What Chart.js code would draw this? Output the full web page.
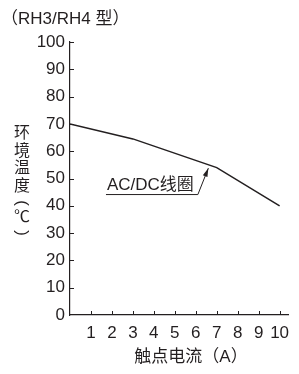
<!DOCTYPE html>
<html>
<head>
<meta charset="utf-8">
<script src="https://cdn.jsdelivr.net/npm/chart.js@4.4.0/dist/chart.umd.min.js"></script>
<style>
  html, body { margin: 0; padding: 0; background: #fff; }
  canvas { display: block; }
</style>
</head>
<body>
<canvas id="chart" width="299" height="374"></canvas>
<script>
// curve data
const currentA = [0, 3, 7, 10];
const ambientTemp = [70, 64.5, 54, 40];

const xTicks = [1, 2, 3, 4, 5, 6, 7, 8, 9, 10];
const yTicks = [0, 10, 20, 30, 40, 50, 60, 70, 80, 90, 100];

const chartTitle = "（RH3/RH4 型）";
const xTitle = "触点电流（A）";
const yTitleChars = ["环", "境", "温", "度"];
const curveLabel = "AC/DC线圈";

const ink = "#231f20";
const font = "'Liberation Sans', 'Noto Sans CJK SC', sans-serif";
const cjk = "'Noto Sans CJK SC', sans-serif";

const points = currentA.map((x, i) => ({ x: x, y: ambientTemp[i] }));

const extras = {
    id: "extras",
    afterDraw(chart) {
        const ctx = chart.ctx;
        const xs = chart.scales.x;
        const ys = chart.scales.y;
        const area = chart.chartArea;

        ctx.save();
        ctx.strokeStyle = ink;
        ctx.fillStyle = ink;
        ctx.lineWidth = 1;

        // inside ticks
        ctx.beginPath();
        yTicks.forEach(v => {
            if (v === 0) return;
            const py = Math.round(ys.getPixelForValue(v)) + 0.5;
            ctx.moveTo(area.left, py);
            ctx.lineTo(area.left + 4, py);
        });
        xTicks.forEach(v => {
            const px = Math.round(xs.getPixelForValue(v)) + 0.5;
            ctx.moveTo(px, area.bottom);
            ctx.lineTo(px, area.bottom - 4);
        });
        ctx.stroke();

        // top title
        ctx.font = "17px " + font;
        ctx.textAlign = "left";
        ctx.textBaseline = "middle";
        ctx.fillText(chartTitle, 1, 19);

        // vertical y title
        ctx.font = "16px " + cjk;
        ctx.textAlign = "center";
        yTitleChars.forEach((c, i) => {
            ctx.fillText(c, 22, 132 + i * 17.5);
        });
        ctx.font = "16px " + font;
        ctx.fillText("℃", 22, 218);
        ctx.font = "17px " + font;
        [[203, "("], [233, ")"]].forEach(p => {
            ctx.save();
            ctx.translate(22, p[0]);
            ctx.rotate(Math.PI / 2);
            ctx.fillText(p[1], 0, 0);
            ctx.restore();
        });

        // x title
        ctx.font = "17px " + font;
        ctx.textAlign = "center";
        ctx.fillText(xTitle, 191, 357);

        // curve label with underline and arrow
        const tipX = xs.getPixelForValue(6.6);
        const tipY = ys.getPixelForValue(53.8);
        const baseX = xs.getPixelForValue(6.1);
        const baseY = ys.getPixelForValue(44.3);
        ctx.font = "17px " + font;
        ctx.textAlign = "right";
        ctx.textBaseline = "alphabetic";
        ctx.fillText(curveLabel, baseX - 4, baseY - 4);
        const w = ctx.measureText(curveLabel).width;
        ctx.beginPath();
        ctx.moveTo(baseX - 4 - w - 1, baseY + 0.5);
        ctx.lineTo(baseX, baseY + 0.5);
        ctx.lineTo(tipX, tipY);
        ctx.stroke();
        // arrow head
        const ang = Math.atan2(tipY - baseY, tipX - baseX);
        ctx.beginPath();
        ctx.moveTo(tipX, tipY);
        ctx.lineTo(tipX - 9 * Math.cos(ang - 0.28), tipY - 9 * Math.sin(ang - 0.28));
        ctx.lineTo(tipX - 9 * Math.cos(ang + 0.28), tipY - 9 * Math.sin(ang + 0.28));
        ctx.closePath();
        ctx.fill();

        ctx.restore();
    }
};

new Chart(document.getElementById("chart"), {
    type: "line",
    data: {
        datasets: [{
            data: points,
            borderColor: ink,
            borderWidth: 1.5,
            pointRadius: 0,
            tension: 0,
            fill: false
        }]
    },
    options: {
        responsive: false,
        animation: false,
        devicePixelRatio: 1,
        layout: { padding: { top: 42, right: 11, left: 0, bottom: 0 } },
        plugins: {
            legend: { display: false },
            tooltip: { enabled: false }
        },
        scales: {
            x: {
                type: "linear",
                min: 0,
                max: 10.4,
                afterBuildTicks: s => { s.ticks = xTicks.map(v => ({ value: v })); },
                afterFit: s => { s.height = 59; },
                grid: { display: false, drawTicks: false },
                border: { color: ink, width: 1.2 },
                ticks: {
                    color: ink,
                    padding: 8,
                    maxRotation: 0,
                    autoSkip: false,
                    font: { family: font, size: 17 }
                }
            },
            y: {
                min: 0,
                max: 100,
                afterBuildTicks: s => { s.ticks = yTicks.map(v => ({ value: v })); },
                afterFit: s => { s.width = 70; },
                grid: { display: false, drawTicks: false },
                border: { color: ink, width: 1.2 },
                ticks: {
                    color: ink,
                    padding: 5,
                    autoSkip: false,
                    font: { family: font, size: 17 }
                }
            }
        }
    },
    plugins: [extras]
});
</script>
</body>
</html>
